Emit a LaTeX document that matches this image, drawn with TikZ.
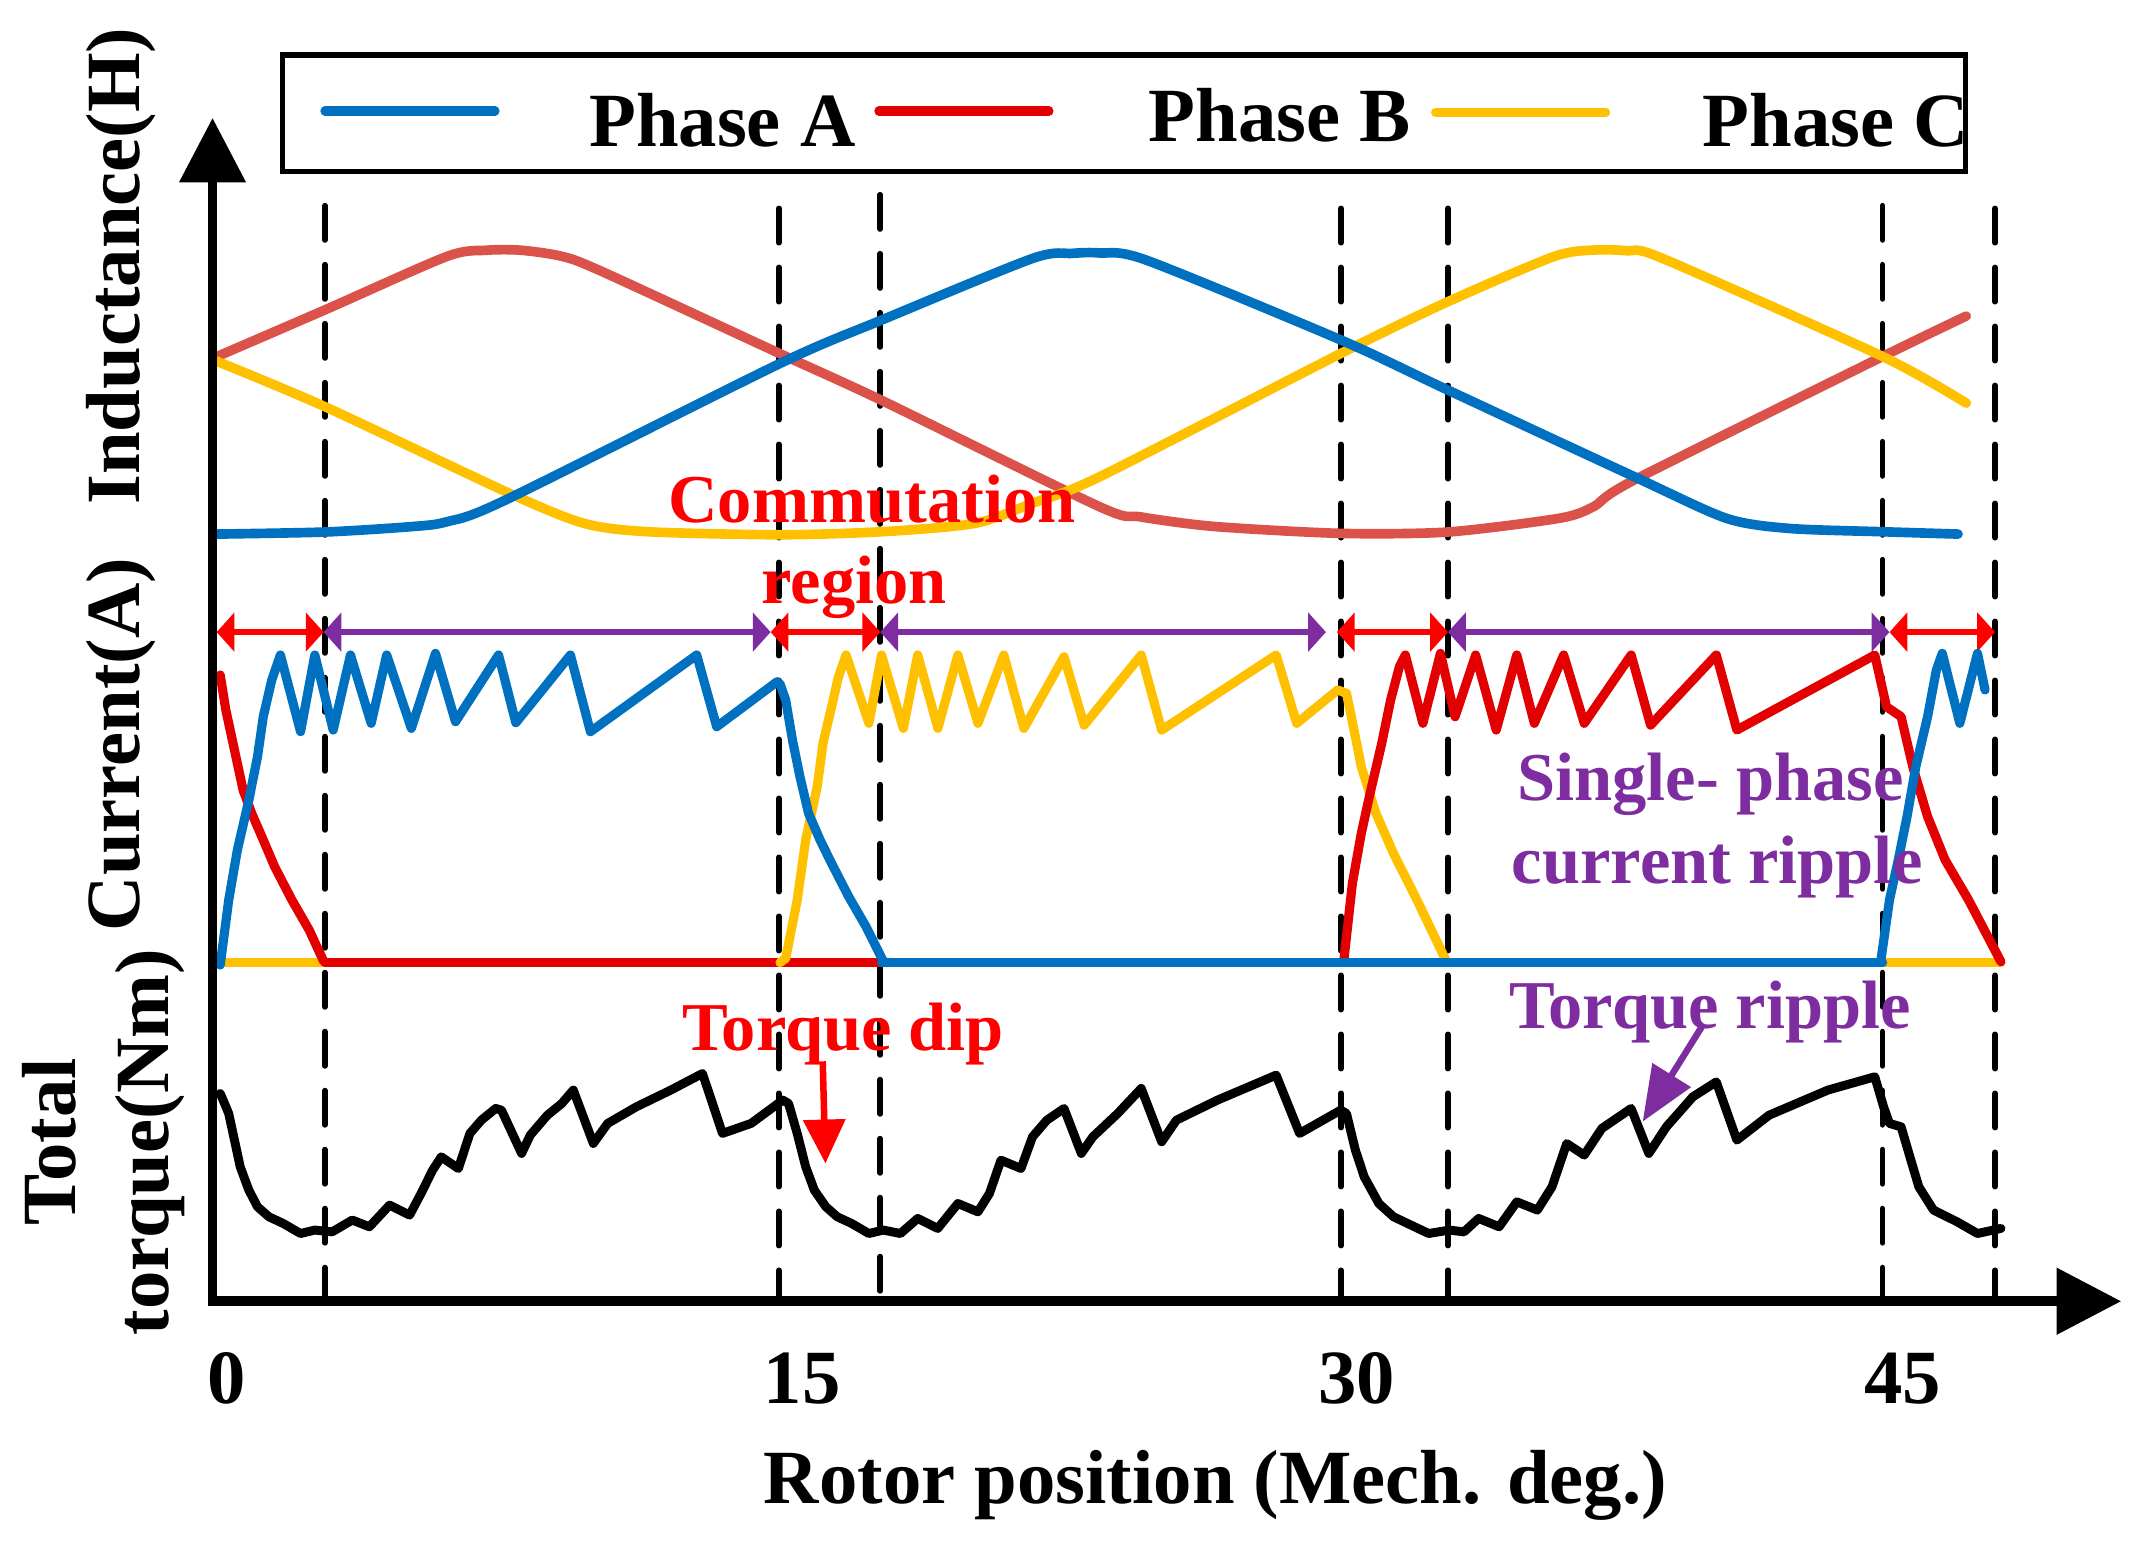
\documentclass[tikz,border=0pt]{standalone}
\usepackage{fontspec}
\setmainfont{Liberation Serif}
\usetikzlibrary{arrows.meta}
\definecolor{cblue}{RGB}{0,112,192}
\definecolor{cred}{RGB}{226,0,0}
\definecolor{cind}{RGB}{218,82,74}
\definecolor{cyel}{RGB}{255,192,0}
\definecolor{cpur}{RGB}{125,45,160}
\definecolor{cann}{RGB}{255,0,0}
\newcommand\bigf{\fontsize{15.9}{19}\selectfont\bfseries}
\newcommand\annf{\fontsize{14.2}{17}\selectfont\bfseries}
\tikzset{
  indline/.style={line width=2pt, line cap=round, line join=round},
  curline/.style={line width=1.9pt, line cap=round, line join=round},
  torqline/.style={line width=1.85pt, line cap=round, line join=round, black},
  axisline/.style={line width=2pt, -{Triangle[length=0.47cm,width=0.47cm]}},
  dashline/.style={line width=1.17pt, line cap=round, dash pattern=on 0.25cm off 0.18cm},
  rowarrow/.style={line width=1.25pt, {Triangle[length=0.13cm,width=0.28cm]}-{Triangle[length=0.13cm,width=0.28cm]}},
  legline/.style={line width=1.9pt, line cap=round},
  legbox/.style={draw, line width=1.1pt, minimum width=12.265cm, minimum height=0.85cm, inner sep=0pt},
  lab/.style={inner sep=0pt, font=\bigf},
  ann/.style={inner sep=0pt, font=\annf},
}
\begin{document}
\begin{tikzpicture}[x=0.01cm, y=-0.01cm]
\useasboundingbox (0,0) rectangle (1568,1127);

% legend
\node[legbox] (legend) at (819.75,82.6) {};
\draw[legline, cblue] (237,81) -- (361,81);
\draw[legline, cred] (641,81) -- (765,81);
\draw[legline, cyel] (1047,82) -- (1171,82);
\node[lab, anchor=base west] (pa) at (429,106.5) {Phase A};
\node[lab, anchor=base west] (pb) at (837,103.5) {Phase B};
\node[lab, anchor=base west] (pc) at (1241,106.5) {Phase C};

% dashed lines
\foreach \xx/\yy in {237/150, 568/152, 642/142, 978/152, 1056/152, 1373/150, 1455/152}
  \draw[dashline] (\xx,\yy) -- (\xx,947);

% inductance curves
\draw[indline, cind] plot[smooth, tension=0.45] coordinates {(156,261) (237,226) (326,187) (355,182.5) (380,182.5) (410,187) (439,198) (569,258) (643,292) (802,369.6) (832,377) (886,384) (978,389) (1056,388) (1137,378) (1162,369.6) (1192,350) (1373,260) (1434,230.5)};
\draw[indline, cyel] plot[smooth, tension=0.45] coordinates {(156,262.6) (237,296.6) (372,360) (426,381.7) (472.5,387.8) (569,390) (643,387.8) (711,381.7) (753,367) (802,347.7) (978,257.7) (1056,220) (1133,187.2) (1162,182.4) (1187.5,183) (1212.6,188.5) (1373,260) (1434,294)};
\draw[indline, cblue] plot[smooth, tension=0.45] coordinates {(158.5,389.5) (237,388) (301,384) (326,380.5) (368,365) (569,265) (643,233.4) (753,188.5) (782,184.8) (802,184.5) (836,189.7) (978,248) (1056,284.5) (1192,347.7) (1259,378) (1305,385.4) (1373,387.8) (1428,389.5)};

% row arrows
\coordinate (r1a) at (158,461);
\coordinate (r1b) at (236,461);
\coordinate (p1b) at (562,461);
\coordinate (r2b) at (642,461);
\coordinate (p2b) at (967,461);
\coordinate (r3a) at (975,461);
\coordinate (r3b) at (1056,461);
\coordinate (p3b) at (1378,461);
\coordinate (r4b) at (1455,461);
\draw[rowarrow, cann] (r1a) -- (r1b);
\draw[rowarrow, cpur] (r1b) -- (p1b);
\draw[rowarrow, cann] (p1b) -- (r2b);
\draw[rowarrow, cpur] (r2b) -- (p2b);
\draw[rowarrow, cann] (r3a) -- (r3b);
\draw[rowarrow, cpur] (r3b) -- (p3b);
\draw[rowarrow, cann] (p3b) -- (r4b);

% current baselines
\draw[curline, cyel] (160,702) -- (237,702);
\draw[curline, cyel] (1373,702) -- (1459,702);
\draw[curline, cred] (237,702) -- (643,702);
% phase C current
\draw[curline, cyel] plot coordinates {(568.8,702) (573,699) (581.4,656.4) (587.6,612.6) (596,573.7) (600.2,542.1) (606.5,515.4) (611.5,493.5) (617,477.7) (633.7,527.5) (642.9,477.7) (658.8,531.2) (669.3,477.7) (684,531.2) (698.6,477.7) (713.2,527.5) (732.1,477.7) (746.7,531.2) (776,479) (790.7,528.8) (832.3,477.7) (847.2,532.4) (930.7,477.7) (945.7,527.5) (975.6,503.2) (982,505.7) (987,530) (992.8,559.2) (1003.5,593.2) (1016.3,622.4) (1033.4,656.4) (1054.8,701)};
% phase B current
\draw[curline, cred] plot coordinates {(160.6,492.3) (164.7,517.8) (171,547) (177.3,576.2) (183.6,593.2) (192,612.6) (200.3,632.1) (212.9,656.4) (225.5,678.3) (236,701)};
\draw[curline, cred] plot coordinates {(979.9,702) (986.3,644.2) (992.8,607.8) (999.2,578.6) (1007.7,542.1) (1014.2,510.5) (1020.6,486.2) (1024.9,477.7) (1037.7,527.5) (1050.5,476.5) (1061.2,522.7) (1076.2,477.7) (1091.2,532.4) (1106.2,477.7) (1119,527.5) (1140.4,477.7) (1155.4,527.5) (1189.6,477.7) (1203.8,528.8) (1251.7,477.7) (1266.7,532.4) (1367.3,477.7) (1375.8,515.4) (1386.5,522.7) (1395,559.2) (1405.8,595.6) (1418.6,627.2) (1435.7,656.4) (1459.3,701.4)};
% phase A current
\draw[curline, cblue] (643,702) -- (1373,702);
\draw[curline, cblue] plot coordinates {(160.6,703.8) (166.8,656.4) (173.1,620) (181.5,583.5) (187.8,551.9) (192,522.7) (198.2,495.9) (204.5,477.7) (219.2,533.6) (229.6,477.7) (243,532.4) (255.6,477.7) (270.7,527.5) (282,477.7) (300,531.2) (317.6,476.5) (332.2,526.3) (363.6,477.7) (376.2,527.1) (416,477.7) (430.6,533.6) (508.1,477.7) (522.7,530) (566.7,497.2) (569,499) (573,510.5) (578,540) (583.4,566.4) (589.7,593.2) (598.1,612.6) (606.5,629.7) (619,654) (631.6,675.8) (644.2,701)};
\draw[curline, cblue] plot coordinates {(1371.5,702) (1378,656.4) (1384.4,627.2) (1390.8,595.6) (1397.2,559.2) (1405.8,522.7) (1412.2,488.6) (1416.5,476.5) (1429.3,527.5) (1442.2,476.5) (1447.7,503.2)};

% torque
\draw[torqline] plot coordinates {(160.6,797.5) (163,803) (166.8,812.1) (171,831.5) (175.2,851) (181.5,868) (187.8,880.1) (196.1,887.4) (206.6,892.3) (219.2,899.6) (229.6,897.1) (242.2,898.4) (256.9,889.8) (269.4,894.7) (284.1,878.9) (298.7,886.2) (307.1,870.4) (315.5,853.4) (321.8,843.7) (334.3,852.2) (342.7,826.6) (351.1,816.9) (361.5,808.4) (365.7,809.6) (380.4,841.2) (386.7,827.9) (399.2,813.3) (409.7,804.8) (418.1,795) (432.7,833.9) (443.2,819.3) (464.1,807.2) (489.2,795) (512.3,782.9) (526.9,826.6) (547.8,819.3) (570.9,802.3) (575.1,804.8) (581.4,826.6) (587.6,851) (593.9,868) (602.3,880.1) (610.6,887.4) (621.1,892.3) (633.7,899.6) (644.2,897.1) (656.7,899.6) (669.3,888.6) (683.9,895.9) (698.6,877.7) (713.2,883.8) (721.6,870.4) (730,846.1) (744.6,852.2) (753,829.1) (763.5,816.9) (776,808.4) (788.6,841.2) (797,829.1) (815.1,812.1) (832.3,793.8) (847.2,832.7) (858,816.9) (887.9,802.3) (930.7,784.1) (947.8,826.6) (977.8,809.6) (982,812.1) (988.5,838.8) (994.9,858.2) (1005.6,877.7) (1016.3,887.4) (1029.1,893.5) (1042,899.6) (1057,897.1) (1067.7,898.4) (1078.4,888.6) (1093.3,894.7) (1106.2,876.5) (1121.2,882.5) (1131.9,865.5) (1142.6,834) (1155.4,842.4) (1168.2,823) (1189.6,808.4) (1202.5,841.2) (1215.3,821.8) (1234.6,799.9) (1251.7,789) (1266.7,831.5) (1290.2,813.3) (1333.1,795) (1367.3,785.3) (1373.7,807.2) (1378,819.3) (1386.5,821.8) (1392.9,843.7) (1399.4,865.5) (1410.1,882.5) (1427.2,891) (1442.2,899.6) (1459.3,895.9)};

% axes
\coordinate (origin) at (155,949);
\coordinate (ytip) at (155,86);
\coordinate (xtip) at (1547,949);
\draw[axisline] ([yshift=-1pt]origin) -- (ytip);
\draw[axisline] ([xshift=-1pt]origin) -- (xtip);

% annotations
\node[ann, cann, anchor=base] (comm) at (636,381) {Commutation};
\node[ann, cann, anchor=base] (regn) at (623,440) {region};
\node[ann, cann, anchor=base west] (tdip) at (497,766) {Torque dip};
\node[ann, cpur, anchor=base west] (trip) at (1100,750) {Torque ripple};
\node[ann, cpur, anchor=base west] (sp1) at (1106,583.5) {Single- phase};
\node[ann, cpur, anchor=base west] (sp2) at (1102,644) {current ripple};
\coordinate (td1) at (600,774);
\coordinate (td2) at (602,848.5);
\draw[line width=1.35pt, cann, -{Triangle[length=0.32cm,width=0.30cm]}] (td1) -- (td2);
\coordinate (tr1) at (1241,749);
\coordinate (tr2) at (1198,818);
\draw[line width=1.35pt, cpur, -{Triangle[length=0.40cm,width=0.32cm]}] (tr1) -- (tr2);

% axis labels
\node[lab, rotate=90, anchor=base] (ylab1) at (102,194) {Inductance(H)};
\node[lab, rotate=90, anchor=base] (ylab2) at (102,543) {Current(A)};
\node[lab, rotate=90, anchor=base] (ylab3) at (55,833) {Total};
\node[lab, rotate=90, anchor=base] (ylab4) at (123,833) {torque(Nm)};
\node[lab, anchor=base] (t0) at (165.6,1023.5) {0};
\node[lab, anchor=base] (t15) at (585,1023.5) {15};
\node[lab, anchor=base] (t30) at (989.5,1023.5) {30};
\node[lab, anchor=base] (t45) at (1387.7,1023.5) {45};
\node[lab, anchor=base] (xlab) at (886.4,1096.5) {Rotor position (Mech. deg.)};
\end{tikzpicture}
\end{document}
